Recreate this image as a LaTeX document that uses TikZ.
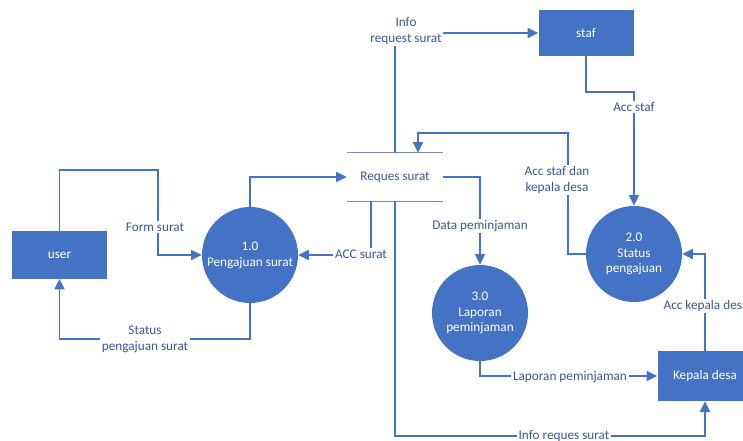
\documentclass[tikz,border=0pt]{standalone}
\usepackage{fontspec}
\setmainfont{Carlito}
\usetikzlibrary{arrows.meta}

\definecolor{dfdblue}{HTML}{4472C4}
\definecolor{dfdtext}{HTML}{3A5699}
\definecolor{dfdstore}{HTML}{7A8AAA}

\tikzset{
  entity/.style={rectangle, fill=dfdblue, text=white, minimum width=2.85cm, minimum height=1.42cm},
  process/.style={circle, fill=dfdblue, text=white, minimum size=2.88cm, inner sep=0pt, align=center},
  store/.style={rectangle, text=dfdtext, minimum width=2.88cm, minimum height=1.44cm},
  flow/.style={draw=dfdblue, line width=1.6pt, -{Triangle[length=9pt,width=8.5pt]}},
  lbl/.style={fill=white, text=dfdtext, align=center, inner sep=1.5pt}
}

\begin{document}
\begin{tikzpicture}[x=0.03cm, y=-0.03cm, font=\fontsize{11.3}{13.4}\selectfont]
  \useasboundingbox (0,0) rectangle (743,441);
  \clip (0,0) rectangle (743,441);

  % entities
  \node[entity] (user) at (59.5,255) {user};
  \node[entity, minimum height=1.38cm] (staf) at (586,33) {staf};
  \node[entity, minimum height=1.5cm] (kades) at (705,376) {Kepala desa};

  % processes
  \node[process] (p1) at (250,255) {1.0\\Pengajuan surat};
  \node[process] (p2) at (634,254) {2.0\\Status\\pengajuan};
  \node[process] (p3) at (480,313) {3.0\\Laporan\\peminjaman};

  % data store
  \node[store] (req) at (395,177) {Reques surat};
  \draw[dfdstore, line width=1pt] (req.north west) -- (req.north east)
                                  (req.south west) -- (req.south east);

  % flows
  \draw[flow] (user.north) -- ++(0,-61) -| (158,230) |- (p1.west);
  \draw[flow] (p1.south) -- ++(0,36) -| (user.south);
  \draw[flow] (p1.north) |- (req.west);
  \draw[flow] ([xshift=-0.72cm]req.south) |- (p1.east);
  \draw[flow] (req.south) -- ++(0,235) -| (kades.south);
  \draw[flow] (req.north) |- (staf.west);
  \draw[flow] (staf.south) -- ++(0,36) -| (p2.north);
  \draw[flow] (p2.west) -- ++(-18,0) -- ++(0,-121) -| ([xshift=0.69cm]req.north);
  \draw[flow] (req.east) -| (p3.north);
  \draw[flow] (p3.south) |- (kades.west);
  \draw[flow] (kades.north) |- (p2.east);

  % labels
  \node[lbl] (lform) at (155,227) {Form surat};
  \node[lbl] (lstatus) at (145,339) {Status\\pengajuan surat};
  \node[lbl] (lacc) at (361,254) {ACC surat};
  \node[lbl] (linfo) at (406,31) {Info\\request surat};
  \node[lbl] (laccstaf) at (634,107) {Acc staf};
  \node[lbl] (laccboth) at (557,180) {Acc staf dan\\kepala desa};
  \node[lbl] (ldata) at (480,226) {Data peminjaman};
  \node[lbl] (llap) at (570,377) {Laporan peminjaman};
  \node[lbl] (linforeq) at (564,436) {Info reques surat};
  \node[lbl] (lacckd) at (706,306) {Acc kepala desa};
\end{tikzpicture}
\end{document}
